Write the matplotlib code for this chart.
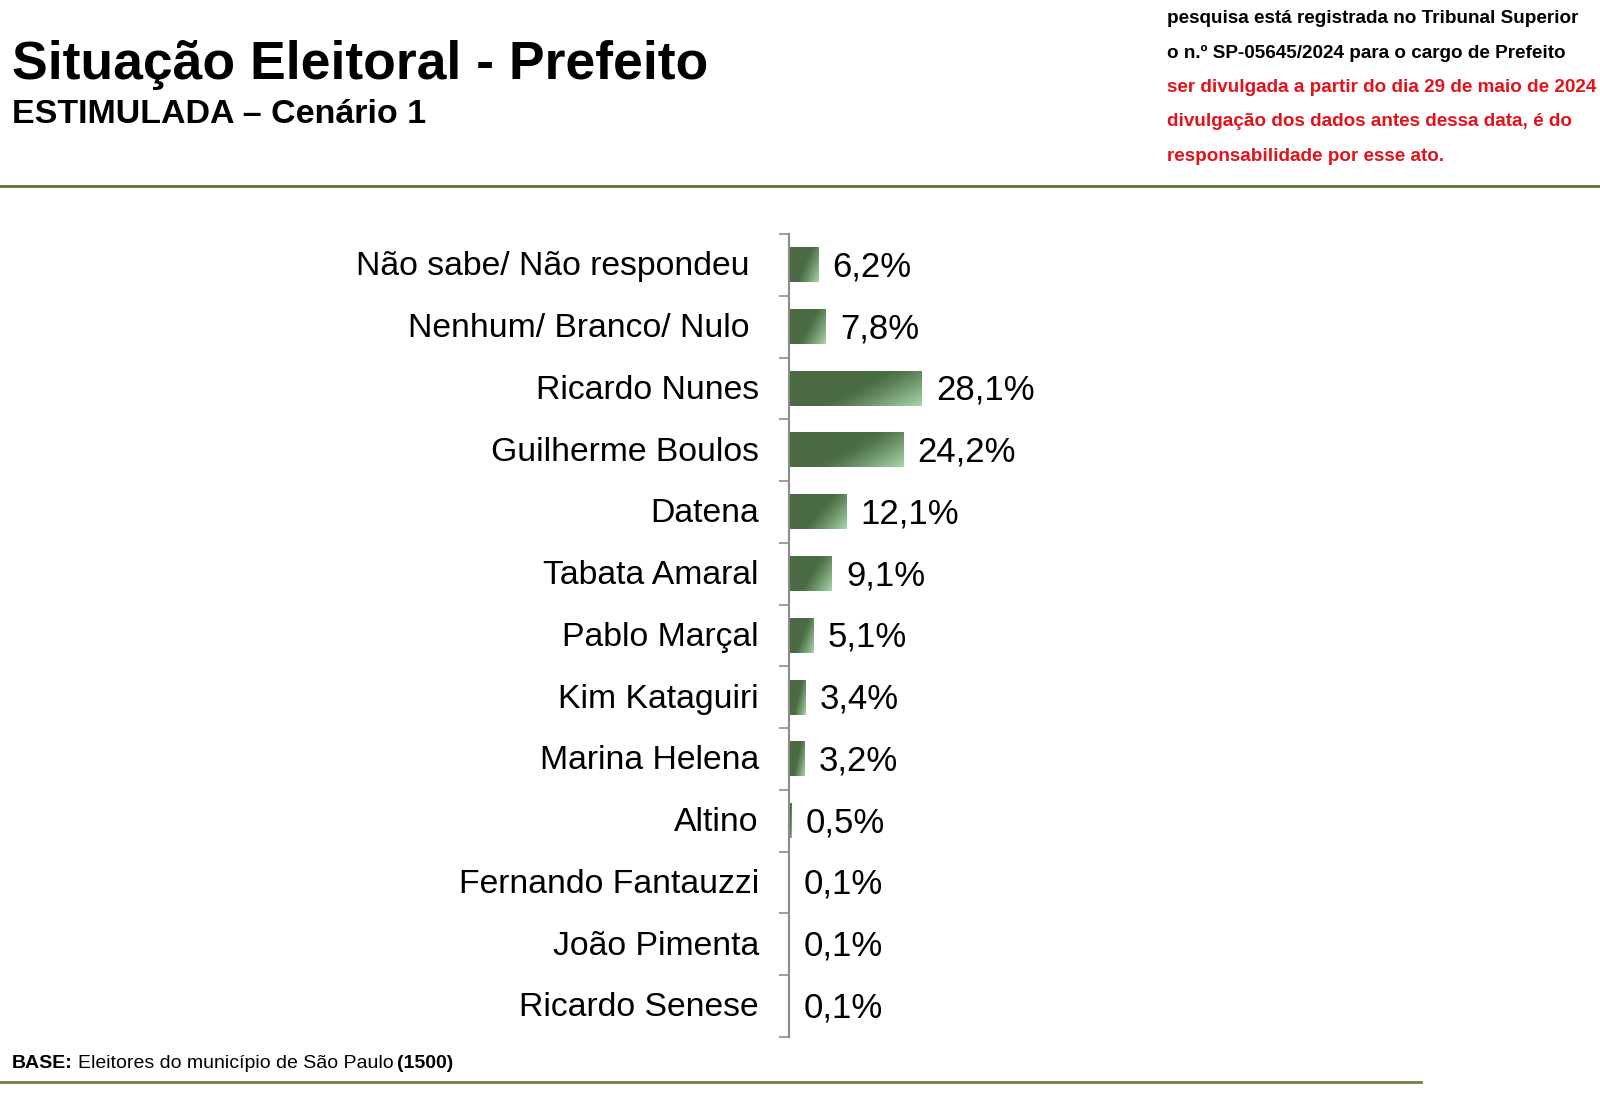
import numpy as np
import matplotlib.pyplot as plt
from matplotlib.colors import to_rgb
from matplotlib.lines import Line2D

plt.rcParams["font.family"] = ["Liberation Sans", "DejaVu Sans"]

candidates = [
    "Não sabe/ Não respondeu ", "Nenhum/ Branco/ Nulo ", "Ricardo Nunes",
    "Guilherme Boulos", "Datena", "Tabata Amaral", "Pablo Marçal",
    "Kim Kataguiri", "Marina Helena", "Altino", "Fernando Fantauzzi",
    "João Pimenta", "Ricardo Senese",
]
values = [6.2, 7.8, 28.1, 24.2, 12.1, 9.1, 5.1, 3.4, 3.2, 0.5, 0.1, 0.1, 0.1]

title = "Situação Eleitoral - Prefeito"
subtitle = "ESTIMULADA – Cenário 1"
note_black = [
    "pesquisa está registrada no Tribunal Superior",
    "o n.º SP-05645/2024 para o cargo de Prefeito",
]
note_red = [
    "ser divulgada a partir do dia 29 de maio de 2024",
    "divulgação dos dados antes dessa data, é do",
    "responsabilidade por esse ato.",
]

W, H = 1600, 1096
fig = plt.figure(figsize=(W / 100, H / 100), dpi=100)

# chart area
ax = fig.add_axes([789 / W, 1 - 1037 / H, 189 / W, 803 / H])

dark = np.array(to_rgb("#4a6b43"))
light = np.array(to_rgb("#a9d6aa"))
bh = 0.56
for i, v in enumerate(values):
    u = np.linspace(0, 1, 120)[None, :]
    w = np.linspace(0, 1, 30)[:, None]
    t = np.clip((u + 0.5 * w - 0.75) / 0.75, 0, 1)
    img = dark + (light - dark) * t[..., None] ** 1.2
    ax.imshow(img, extent=(0, v, i + bh / 2, i - bh / 2), aspect="auto",
              interpolation="bilinear", zorder=2)
    ax.text(v + 3.0, i + 0.03, f"{v:.1f}%".replace(".", ","), ha="left", va="center",
            fontsize=25, color="black")

ax.set_xlim(0, 40)
ax.set_ylim(len(candidates) - 0.5, -0.5)

for s in ["top", "right", "bottom"]:
    ax.spines[s].set_visible(False)
ax.spines["left"].set_color("#8c8c8c")
ax.spines["left"].set_linewidth(1.5)
ax.set_xticks([])
ax.set_yticks(np.arange(len(candidates) + 1) - 0.5)
ax.set_yticklabels([])
ax.tick_params(axis="y", length=7, width=1.2, color="#8c8c8c")
for i, name in enumerate(candidates):
    ax.text(-6.4, i + 0.03, name, ha="right", va="center", fontsize=24.3, color="black")

# header
fig.text(12 / W, 1 - 79 / H, title, fontsize=38.5, fontweight="bold", va="baseline")
fig.text(12 / W, 1 - 123 / H, subtitle, fontsize=24.5, fontweight="bold", va="baseline")

y0 = 23
for k, line in enumerate(note_black + note_red):
    color = "black" if k < len(note_black) else "#e3121b"
    fig.text(1167 / W, 1 - (y0 + k * 34.5) / H, line, fontsize=13.6,
             fontweight="bold", color=color, va="baseline")

fig.add_artist(Line2D([0, 1], [1 - 186 / H] * 2, color="#5a7436", lw=2))
fig.add_artist(Line2D([0, 1421 / W], [1 - 1082 / H] * 2, color="#6b7f4a", lw=2))

base = fig.text(12 / W, 1 - 1068 / H, "BASE:", fontsize=14, fontweight="bold",
                va="baseline")
mid = fig.text(78 / W, 1 - 1068 / H, "Eleitores do município de São Paulo", fontsize=14,
               va="baseline")
fig.text(397 / W, 1 - 1068 / H, "(1500)", fontsize=14, fontweight="bold", va="baseline")

fig.savefig("out.png", dpi=100)
